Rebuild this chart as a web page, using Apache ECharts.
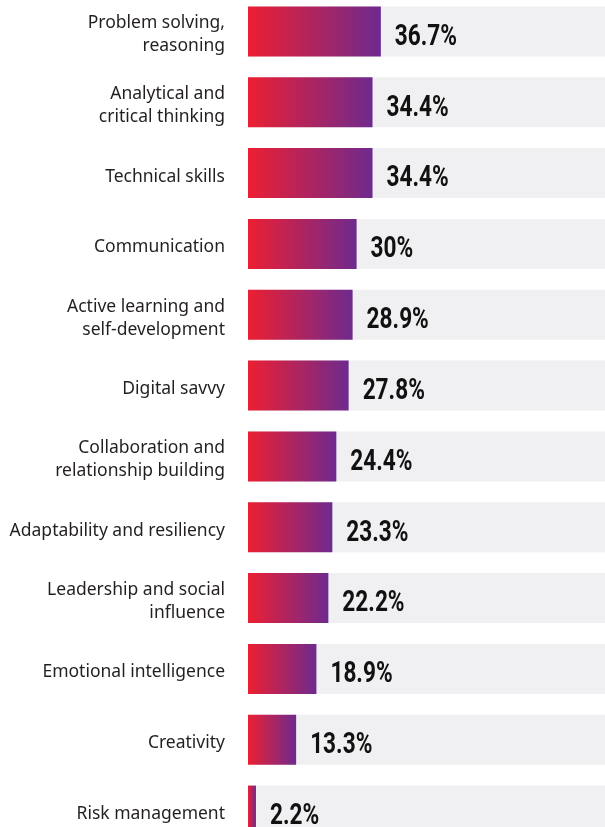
<!DOCTYPE html>
<html><head><meta charset="utf-8">
<script src="https://cdn.jsdelivr.net/npm/echarts@6/dist/echarts.min.js"></script>
<style>html,body{margin:0;padding:0;background:#fff}#c{width:605px;height:827px}</style>
</head><body><div id="c"></div>
<script>
const categories = [
  "Problem solving,\nreasoning",
  "Analytical and\ncritical thinking",
  "Technical skills",
  "Communication",
  "Active learning and\nself-development",
  "Digital savvy",
  "Collaboration and\nrelationship building",
  "Adaptability and resiliency",
  "Leadership and social\ninfluence",
  "Emotional intelligence",
  "Creativity",
  "Risk management"
];
const values = [36.7, 34.4, 34.4, 30, 28.9, 27.8, 24.4, 23.3, 22.2, 18.9, 13.3, 2.2];

const chart = echarts.init(document.getElementById('c'), null, {renderer: 'canvas'});
chart.setOption({
  animation: false,
  grid: {left: 248, right: -5, top: -4, height: 850, outerBoundsMode: 'none', containLabel: false},
  xAxis: {type: 'value', min: 0, max: 100, show: false},
  yAxis: {
    type: 'category', data: categories, inverse: true,
    axisLine: {show: false}, axisTick: {show: false},
    axisLabel: {
      margin: 23, fontSize: 17.5, lineHeight: 23, color: '#231f20',
      fontFamily: '"Noto Sans", "Open Sans", sans-serif', align: 'right',
      formatter: v => '{s|}\n' + v,
      rich: {s: {height: 7, lineHeight: 7, fontSize: 7}}
    }
  },
  series: [{
    type: 'bar', data: values, barCategoryGap: '29.4%',
    showBackground: true,
    backgroundStyle: {color: '#f0f0f2'},
    itemStyle: {
      color: new echarts.graphic.LinearGradient(0, 0, 1, 0, [
        {offset: 0, color: '#ec1f32'},
        {offset: 1, color: '#6e2a8e'}
      ])
    }
  }, {
    type: 'custom',
    data: values.map((v, i) => [v, i]),
    encode: {x: 0, y: 1},
    z: 5,
    renderItem: function (params, api) {
      const p = api.coord([api.value(0), api.value(1)]);
      return {
        type: 'text', x: p[0] + 14, y: p[1] + 6, scaleX: 0.78,
        style: {
          text: api.value(0) + '%',
          fontSize: 29, fontWeight: 'bold', fontFamily: 'Roboto, sans-serif',
          fill: '#111', align: 'left', verticalAlign: 'middle'
        }
      };
    }
  }]
});
</script></body></html>
